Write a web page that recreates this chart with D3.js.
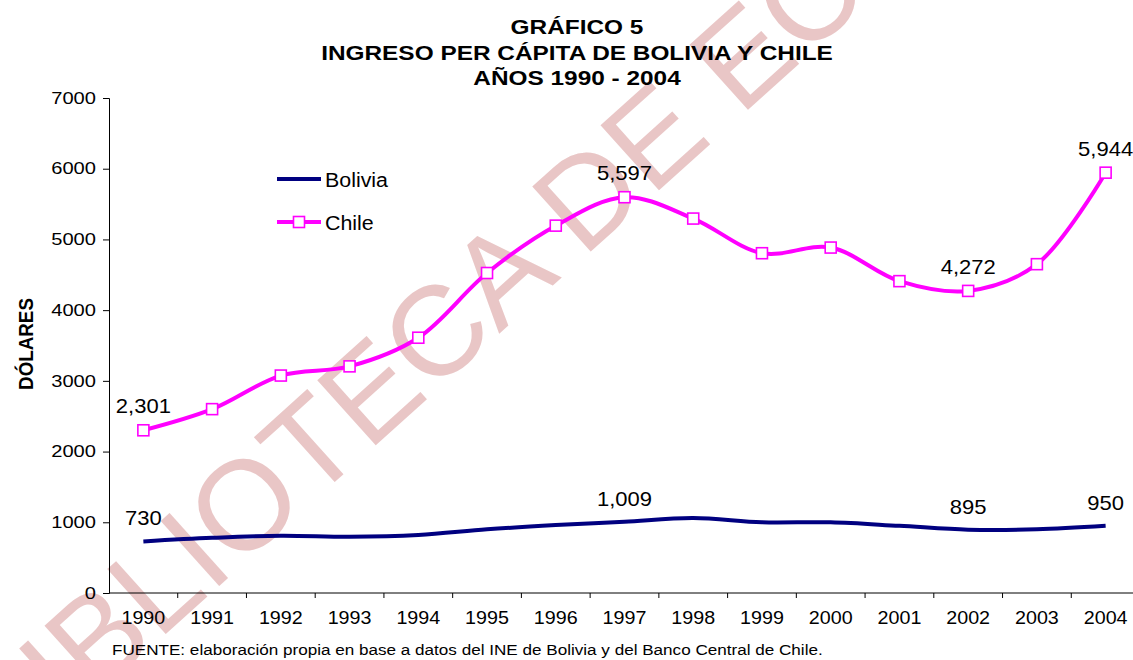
<!DOCTYPE html>
<html>
<head>
<meta charset="utf-8">
<script src="https://d3js.org/d3.v7.min.js"></script>
<style>
body{ margin:0; background:#fff; }
svg{ display:block; font-family:"Liberation Sans", Arial, sans-serif; }
</style>
</head>
<body>
<script>
// data
var years = ["1990","1991","1992","1993","1994","1995","1996","1997","1998","1999","2000","2001","2002","2003","2004"];
var chile   = [2301, 2600, 3075, 3205, 3610, 4525, 5195, 5597, 5295, 4805, 4885, 4410, 4272, 4650, 5944];
var bolivia = [730, 780, 810, 795, 820, 900, 960, 1009, 1060, 1000, 1000, 950, 895, 900, 950];
var yTicks = [0, 1000, 2000, 3000, 4000, 5000, 6000, 7000];
var titleLines = ["GRÁFICO 5", "INGRESO PER CÁPITA DE BOLIVIA Y CHILE", "AÑOS 1990 - 2004"];
var labelled = ["1990", "1997", "2002", "2004"];

var width = 1133, height = 660;
var svg = d3.select("body").append("svg")
  .attr("width", width).attr("height", height);

// the original picture is a little wider than tall, so text is stretched sideways
function stretch(sel, k) {
  sel.attr("transform", function(){
    var tx = +this.getAttribute("x") || 0, ty = +this.getAttribute("y") || 0;
    return "translate(" + tx + "," + ty + ") scale(" + k + ",1)";
  }).attr("x", 0).attr("y", 0);
}

// watermark
svg.append("text")
  .attr("transform", "translate(6,778) rotate(-42)")
  .attr("font-size", 127)
  .attr("fill", "#e9c6c6")
  .text("BIBLIOTECA DE ECONOMIA");

var x = d3.scaleBand().domain(years).range([109, 1140]);
var y = d3.scaleLinear().domain([0, 7000]).range([593, 98]);
var cx = function(d){ return x(d) + x.bandwidth() / 2; };

// title
svg.append("g").selectAll("text")
  .data(titleLines).enter().append("text")
  .attr("x", 577).attr("y", function(d, i){ return [34, 60, 85][i]; })
  .attr("text-anchor", "middle")
  .attr("font-size", 20).attr("font-weight", "bold")
  .text(function(d){ return d; })
  .call(stretch, 1.22);

// y axis
var yAxis = svg.append("g")
  .attr("transform", "translate(109,0)")
  .call(d3.axisLeft(y).tickValues(yTicks).tickSize(6).tickPadding(7).tickFormat(d3.format("d")));
yAxis.selectAll("text").attr("font-size", 16.5).attr("fill", "#000")
  .attr("font-family", "'Liberation Sans', Arial, sans-serif")
  .call(stretch, 1.22);
yAxis.selectAll("line, path").attr("stroke", "#000");

svg.append("text")
  .attr("transform", "translate(33,344) scale(1.1,1) rotate(-90)")
  .attr("text-anchor", "middle")
  .attr("font-size", 18.8).attr("font-weight", "bold")
  .text("DÓLARES");

// x axis: labels centred, ticks between categories
var xAxis = svg.append("g")
  .attr("transform", "translate(0,593)")
  .call(d3.axisBottom(x).tickSize(0).tickPadding(18));
xAxis.select("path").remove();
xAxis.selectAll("text").attr("font-size", 18.6).attr("fill", "#000")
  .attr("font-family", "'Liberation Sans', Arial, sans-serif")
  .call(stretch, 1.06);
svg.append("line").attr("x1", 109).attr("x2", width).attr("y1", 593).attr("y2", 593).attr("stroke", "#000");
svg.append("g").selectAll("line")
  .data(years.slice(1).concat(["end"])).enter().append("line")
  .attr("x1", function(d){ return d == "end" ? x.range()[1] : x(d); })
  .attr("x2", function(d){ return d == "end" ? x.range()[1] : x(d); })
  .attr("y1", 593).attr("y2", 598).attr("stroke", "#000");

// lines
var line = d3.line()
  .x(function(d, i){ return cx(years[i]); })
  .y(function(d){ return y(d); })
  .curve(d3.curveCatmullRom.alpha(0.5));

svg.append("path").datum(bolivia)
  .attr("d", line).attr("fill", "none")
  .attr("stroke", "#000080").attr("stroke-width", 4);

svg.append("path").datum(chile)
  .attr("d", line).attr("fill", "none")
  .attr("stroke", "#ff00ff").attr("stroke-width", 4);

svg.append("g").selectAll("rect")
  .data(chile).enter().append("rect")
  .attr("x", function(d, i){ return cx(years[i]) - 5.5; })
  .attr("y", function(d){ return y(d) - 5.5; })
  .attr("width", 11).attr("height", 11)
  .attr("fill", "#fff").attr("stroke", "#ff00ff").attr("stroke-width", 1.6);

// data labels
var fmt = d3.format(",");
function addLabels(values, dy) {
  svg.append("g").selectAll("text")
    .data(years.filter(function(d){ return labelled.indexOf(d) >= 0; })).enter().append("text")
    .attr("x", function(d){ return cx(d); })
    .attr("y", function(d){ return y(values[years.indexOf(d)]) + dy; })
    .attr("text-anchor", "middle")
    .attr("font-size", 20)
    .text(function(d){ return fmt(values[years.indexOf(d)]); })
    .call(stretch, 1.1);
}
addLabels(chile, -17);
addLabels(bolivia, -16);

// legend
var legend = [["Bolivia", "#000080", false], ["Chile", "#ff00ff", true]];
var lg = svg.append("g").selectAll("g")
  .data(legend).enter().append("g")
  .attr("transform", function(d, i){ return "translate(277," + (179 + i * 43) + ")"; });
lg.append("line").attr("x1", 0).attr("x2", 44)
  .attr("stroke", function(d){ return d[1]; }).attr("stroke-width", 4);
lg.filter(function(d){ return d[2]; }).append("rect")
  .attr("x", 16.5).attr("y", -5.5).attr("width", 11).attr("height", 11)
  .attr("fill", "#fff").attr("stroke", "#ff00ff").attr("stroke-width", 1.6);
lg.append("text").attr("x", 48).attr("y", 8)
  .attr("font-size", 20)
  .text(function(d){ return d[0]; })
  .call(stretch, 1.07);

// source
svg.append("text")
  .attr("x", 112).attr("y", 655)
  .attr("font-size", 15)
  .text("FUENTE: elaboración propia en base a datos del INE de Bolivia y del Banco Central de Chile.")
  .call(stretch, 1.14);
</script>
</body>
</html>
